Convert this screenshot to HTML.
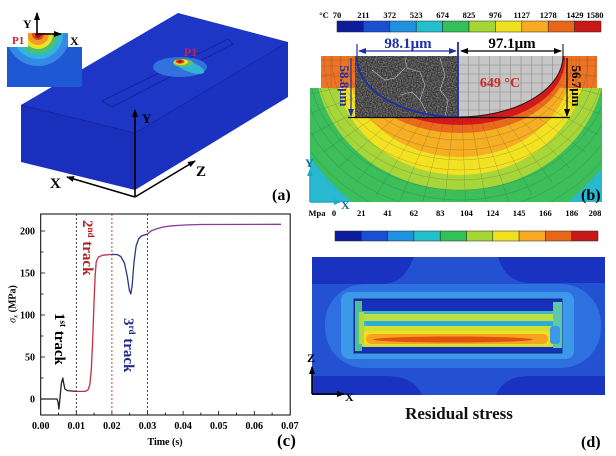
<!DOCTYPE html>
<html><head><meta charset="utf-8"><style>
html,body{margin:0;padding:0;background:#fff;}
svg{display:block;font-family:"Liberation Serif",serif;font-weight:bold;}
</style></head><body>
<svg width="616" height="456" viewBox="0 0 616 456" xmlns="http://www.w3.org/2000/svg">
<defs>
  <marker id="ah" markerWidth="8" markerHeight="8" refX="7" refY="4" orient="auto" markerUnits="userSpaceOnUse"><path d="M0,1 L8,4 L0,7 Z" fill="#000"/></marker>
  <marker id="ahb" markerWidth="8" markerHeight="8" refX="7" refY="4" orient="auto-start-reverse" markerUnits="userSpaceOnUse"><path d="M0,1 L8,4 L0,7 Z" fill="#1e2ea8"/></marker>
  <marker id="ahk" markerWidth="8" markerHeight="8" refX="7" refY="4" orient="auto-start-reverse" markerUnits="userSpaceOnUse"><path d="M0,1 L8,4 L0,7 Z" fill="#000"/></marker>
  <marker id="ahc" markerWidth="7" markerHeight="7" refX="6" refY="3.5" orient="auto" markerUnits="userSpaceOnUse"><path d="M0,0.5 L7,3.5 L0,6.5 Z" fill="#20a8c8"/></marker>
  <clipPath id="clipInset"><path d="M7,47 H28 V33 H68 V47 H82 V84 Q82,87 79,87 H7 Z"/></clipPath>
  <clipPath id="clipB"><path d="M321,56 H597 V88 H602 V202 H310 V88 H321 Z"/></clipPath>
  <clipPath id="clipGray"><path d="M458,56 H563 A105,61 0 0,1 458,117 Z"/></clipPath>
  <filter id="noise" x="0" y="0" width="100%" height="100%">
    <feTurbulence type="fractalNoise" baseFrequency="0.8" numOctaves="2" seed="3"/>
    <feColorMatrix type="matrix" values="0 0 0 0 0.85  0 0 0 0 0.85  0 0 0 0 0.85  1.6 0 0 0 -0.55"/>
  </filter>
</defs>

<!-- ================= (a) ================= -->
<polygon points="21,105 178,13 288,42 135,133" fill="#1d36c6"/>
<polygon points="21,105 135,133 135,190 21,162" fill="#1a2fbb"/>
<polygon points="135,133 288,42 288,97 135,190" fill="#1b31bf"/>
<polyline points="21,105 135,133 288,42" fill="none" stroke="#13239a" stroke-width="0.7"/>
<line x1="135" y1="133" x2="135" y2="190" stroke="#13239a" stroke-width="0.6"/>
<polygon points="102,101 228,39 233,44 112,107" fill="none" stroke="#122090" stroke-width="0.8"/>
<ellipse cx="180" cy="67" rx="27" ry="10" fill="#3272dc"/>
<ellipse cx="190" cy="67" rx="15" ry="5" fill="#34b4d4" transform="rotate(20 190 67)"/>
<ellipse cx="183" cy="63" rx="10" ry="4" fill="#5cc070"/>
<ellipse cx="181" cy="62" rx="7" ry="3" fill="#eee024"/>
<ellipse cx="180" cy="61.5" rx="4.5" ry="2.2" fill="#e04a12"/>
<ellipse cx="180" cy="61.5" rx="2" ry="1.2" fill="#a01010"/>
<text x="184" y="56" font-size="12" fill="#c82050">P1</text>

<g clip-path="url(#clipInset)">
  <rect x="0" y="30" width="90" height="60" fill="#1e58d2"/>
  <circle cx="38" cy="34" r="32" fill="#3688e6"/>
  <circle cx="38" cy="34" r="25" fill="#30b6dc"/>
  <circle cx="38" cy="34" r="20" fill="#4cc070"/>
  <circle cx="38" cy="34" r="15" fill="#ece224"/>
  <circle cx="38" cy="34" r="11" fill="#f29a22"/>
  <circle cx="38" cy="34" r="6" fill="#e04412"/>
  <circle cx="38" cy="35" r="3" fill="#a01010"/>
</g>
<line x1="37" y1="35" x2="37" y2="13" stroke="#000" stroke-width="1.6" marker-end="url(#ah)"/>
<line x1="37" y1="34" x2="61" y2="34" stroke="#000" stroke-width="1.6" marker-end="url(#ah)"/>
<text x="23" y="28" font-size="12" fill="#000">Y</text>
<text x="70" y="45" font-size="12" fill="#000">X</text>
<text x="12" y="44" font-size="11" fill="#c82030">P1</text>

<line x1="135" y1="197" x2="135" y2="110" stroke="#000" stroke-width="1.6" marker-end="url(#ah)"/>
<line x1="135" y1="197" x2="67" y2="177" stroke="#000" stroke-width="1.6" marker-end="url(#ah)"/>
<line x1="135" y1="197" x2="195" y2="161" stroke="#000" stroke-width="1.6" marker-end="url(#ah)"/>
<text x="142" y="123" font-size="13" fill="#000">Y</text>
<text x="50" y="188" font-size="15" fill="#000">X</text>
<text x="196" y="176" font-size="15" fill="#000">Z</text>
<text x="272" y="200" font-size="16" fill="#000">(a)</text>

<!-- ================= (b) ================= -->
<g font-size="8.5" fill="#000" text-anchor="middle">
  <text x="324" y="18">°C</text>
  <text x="337" y="18">70</text>
  <text x="363.4" y="18">211</text>
  <text x="389.8" y="18">372</text>
  <text x="416.2" y="18">523</text>
  <text x="442.6" y="18">674</text>
  <text x="469" y="18">825</text>
  <text x="495.4" y="18">976</text>
  <text x="521.8" y="18">1127</text>
  <text x="548.2" y="18">1278</text>
  <text x="575" y="18">1429</text>
  <text x="595" y="18">1580</text>
</g>
<g stroke="#222" stroke-width="0.5">
  <rect x="337" y="21" width="26.4" height="11" fill="#0c1c9c"/>
  <rect x="363.4" y="21" width="26.4" height="11" fill="#1a50d0"/>
  <rect x="389.8" y="21" width="26.4" height="11" fill="#2090e0"/>
  <rect x="416.2" y="21" width="26.4" height="11" fill="#22c0cc"/>
  <rect x="442.6" y="21" width="26.4" height="11" fill="#34c058"/>
  <rect x="469" y="21" width="26.4" height="11" fill="#a4d634"/>
  <rect x="495.4" y="21" width="26.4" height="11" fill="#f0e020"/>
  <rect x="521.8" y="21" width="26.4" height="11" fill="#f8aa22"/>
  <rect x="548.2" y="21" width="26.4" height="11" fill="#e8661a"/>
  <rect x="574.6" y="21" width="26.4" height="11" fill="#c81818"/>
</g>

<g clip-path="url(#clipB)">
  <rect x="305" y="50" width="300" height="160" fill="#28b8d0"/>
  <circle cx="460" cy="60" r="178" fill="#3cbe5a"/>
  <ellipse cx="460" cy="60" rx="145" ry="130" fill="#a6d63a"/>
  <ellipse cx="460" cy="60" rx="126" ry="115" fill="#f2e222"/>
  <ellipse cx="460" cy="60" rx="113" ry="97" fill="#f6ae22"/>
  <rect x="321" y="56" width="276" height="32" fill="#ee7424"/>
  <ellipse cx="460" cy="60" rx="108" ry="73" fill="#ea6a1c"/>
  <ellipse cx="460" cy="60" rx="105" ry="65" fill="#d21a1a"/>
  <g fill="none" stroke="#3a3a3a" stroke-width="0.5" opacity="0.35">
    <ellipse cx="460" cy="60" rx="112" ry="80"/>
    <ellipse cx="460" cy="60" rx="120" ry="90"/>
    <ellipse cx="460" cy="60" rx="128" ry="100"/>
    <ellipse cx="460" cy="60" rx="136" ry="110"/>
    <ellipse cx="460" cy="60" rx="144" ry="120"/>
    <ellipse cx="460" cy="60" rx="152" ry="130"/>
    <ellipse cx="460" cy="60" rx="160" ry="140"/>
    <ellipse cx="460" cy="60" rx="170" ry="152"/>
    <ellipse cx="460" cy="60" rx="180" ry="164"/>
    <path d="M460,60 L620,60 M460,60 L619,79 M460,60 L615,98 M460,60 L608,117 M460,60 L598,135 M460,60 L585,152 M460,60 L570,168 M460,60 L552,182 M460,60 L532,195 M460,60 L510,205 M460,60 L488,212 M460,60 L466,215 M460,60 L443,215 M460,60 L420,212 M460,60 L398,205 M460,60 L376,195 M460,60 L356,182 M460,60 L338,168 M460,60 L323,152 M460,60 L310,135 M460,60 L300,117 M460,60 L293,98 M460,60 L289,79 M460,60 L288,60"/>
    <path d="M321,66 H350 M321,76 H350 M570,66 H597 M570,76 H597 M331,56 V88 M341,56 V88 M576,56 V88 M587,56 V88"/>
  </g>
</g>
<path d="M458,56 H563 A105,61 0 0,1 458,117 Z" fill="#c6c6c6"/>
<g clip-path="url(#clipGray)" stroke="#8a8a8a" stroke-width="0.6">
  <path d="M468.5,56 V120 M479,56 V120 M489.5,56 V120 M500,56 V120 M510.5,56 V120 M521,56 V120 M531.5,56 V120 M542,56 V120 M552.5,56 V120 M458,65 H565 M458,74 H565 M458,83 H565 M458,92 H565 M458,101 H565 M458,110 H565"/>
</g>
<path d="M563,56 A105,61 0 0,1 458,117" fill="none" stroke="#301010" stroke-width="1"/>
<rect x="355" y="56" width="103" height="61" fill="#333"/>
<rect x="355" y="56" width="103" height="61" filter="url(#noise)" opacity="0.6"/>
<g fill="none" stroke="#dcdcdc" stroke-width="0.6" opacity="0.8">
  <path d="M405,58 L407,68 L420,72 L425,85 L420,100 L428,115"/>
  <path d="M440,58 L445,75 L440,90 L448,100 L445,117"/>
  <path d="M372,70 L385,80 L395,78 L405,68"/>
  <path d="M400,95 L412,92 L420,100"/>
</g>
<path d="M357,58 A101,59 0 0,0 458,117" fill="none" stroke="#1e2ea8" stroke-width="1.8"/>
<line x1="458" y1="42" x2="458" y2="117" stroke="#1e2ea8" stroke-width="1.8"/>
<line x1="357" y1="44" x2="357" y2="60" stroke="#1e2ea8" stroke-width="1.2"/>
<line x1="563" y1="44" x2="563" y2="60" stroke="#000" stroke-width="1"/>
<line x1="348" y1="117.5" x2="570" y2="117.5" stroke="#111" stroke-width="1.3"/>
<line x1="359" y1="51" x2="456" y2="51" stroke="#1e2ea8" stroke-width="1.2" marker-start="url(#ahb)" marker-end="url(#ahb)"/>
<line x1="461" y1="51" x2="561" y2="51" stroke="#000" stroke-width="1.2" marker-start="url(#ahk)" marker-end="url(#ahk)"/>
<line x1="351" y1="58" x2="351" y2="116" stroke="#1e2ea8" stroke-width="1.2" marker-end="url(#ahb)"/>
<line x1="567" y1="58" x2="567" y2="116" stroke="#000" stroke-width="1.2" marker-end="url(#ahk)"/>
<text x="408" y="48" font-size="15" fill="#1e2ea8" text-anchor="middle">98.1μm</text>
<text x="512" y="48" font-size="15" fill="#000" text-anchor="middle">97.1μm</text>
<text x="500" y="87" font-size="14" fill="#d02828" text-anchor="middle">649 °C</text>
<text x="340" y="86" font-size="13" fill="#1e2ea8" text-anchor="middle" transform="rotate(90 340 86)">58.8μm</text>
<text x="572" y="86" font-size="13" fill="#000" text-anchor="middle" transform="rotate(90 572 86)">56.7μm</text>
<line x1="310" y1="202" x2="310" y2="170" stroke="#20a8c8" stroke-width="1.6" marker-end="url(#ahc)"/>
<line x1="310" y1="202" x2="340" y2="202" stroke="#20a8c8" stroke-width="1.6" marker-end="url(#ahc)"/>
<text x="305" y="167" font-size="12" fill="#1a6a90">Y</text>
<text x="341" y="209" font-size="12" fill="#1a6a90">X</text>
<text x="581" y="200" font-size="16" fill="#000">(b)</text>

<!-- ================= (c) ================= -->
<rect x="40.7" y="214" width="249.5" height="201" fill="none" stroke="#000" stroke-width="1"/>
<g stroke="#000" stroke-width="0.8">
  <path d="M76.3,415 V411 M111.9,415 V411 M147.5,415 V411 M183.1,415 V411 M218.7,415 V411 M254.3,415 V411"/>
  <path d="M58.5,415 V412.5 M94.1,415 V412.5 M129.7,415 V412.5 M165.3,415 V412.5 M200.9,415 V412.5 M236.5,415 V412.5 M272.1,415 V412.5"/>
  <path d="M40.7,399 H45 M40.7,357 H45 M40.7,315 H45 M40.7,273 H45 M40.7,231 H45"/>
  <path d="M40.7,378 H43.5 M40.7,336 H43.5 M40.7,294 H43.5 M40.7,252 H43.5"/>
</g>
<g stroke-dasharray="2,2" stroke-width="0.9">
  <line x1="76.3" y1="214" x2="76.3" y2="415" stroke="#222"/>
  <line x1="111.9" y1="214" x2="111.9" y2="415" stroke="#b03030"/>
  <line x1="147.5" y1="214" x2="147.5" y2="415" stroke="#283888"/>
</g>
<g fill="none" stroke-width="1.3" stroke-linejoin="round">
  <path d="M40.7,399 L57.1,399 L58.1,402.4 L58.9,409.1 L59.9,399 L61.3,383.9 L62.8,378 L63.8,383.9 L64.9,388.9 L67.4,390.6 L76.3,391.4" stroke="#222"/>
  <path d="M76.3,391.4 L85.2,391.4 L88,389.8 L89.8,385 L91.3,370 L92.7,340 L94.1,300 L95.2,275 L96.2,262 L98.4,257 L103,255.2 L111.9,254.4" stroke="#c03040"/>
  <path d="M111.9,254.4 L117.2,254.6 L120.8,256.5 L124.4,263 L127.2,276 L129.3,290 L130.8,294 L132.2,285 L134,262 L136.1,246 L138.6,239 L141.4,236 L147.5,234" stroke="#283888"/>
  <path d="M147.5,234 L151,231 L156,229 L163,227 L172,225.8 L185,225 L200,224.5 L281,224.3" stroke="#8a3a9a"/>
</g>
<g font-size="10" fill="#000" text-anchor="middle">
  <text x="40.7" y="429">0.00</text>
  <text x="76.3" y="429">0.01</text>
  <text x="111.9" y="429">0.02</text>
  <text x="147.5" y="429">0.03</text>
  <text x="183.1" y="429">0.04</text>
  <text x="218.7" y="429">0.05</text>
  <text x="254.3" y="429">0.06</text>
  <text x="289.9" y="429">0.07</text>
  <text x="165" y="445">Time (s)</text>
</g>
<g font-size="10" fill="#000" text-anchor="end">
  <text x="35" y="402.5">0</text>
  <text x="35" y="360.5">50</text>
  <text x="35" y="318.5">100</text>
  <text x="35" y="276.5">150</text>
  <text x="35" y="234.5">200</text>
</g>
<text x="15.5" y="304" font-size="10" fill="#000" text-anchor="middle" transform="rotate(-90 15.5 304)"><tspan font-style="italic" font-weight="normal">σ</tspan><tspan font-size="7" dy="2" font-style="italic" font-weight="normal">x</tspan><tspan dy="-2"> (MPa)</tspan></text>
<text x="55" y="313" font-size="15" fill="#000" transform="rotate(90 55 313)">1<tspan font-size="9" dy="-5">st</tspan><tspan dy="5"> track</tspan></text>
<text x="83" y="220" font-size="15" fill="#b02020" transform="rotate(90 83 220)">2<tspan font-size="9" dy="-5">nd</tspan><tspan dy="5"> track</tspan></text>
<text x="124" y="318" font-size="15" fill="#1c2a90" transform="rotate(90 124 318)">3<tspan font-size="9" dy="-5">rd</tspan><tspan dy="5"> track</tspan></text>
<text x="277" y="446" font-size="17" fill="#000">(c)</text>

<!-- ================= (d) ================= -->
<g font-size="8.5" fill="#000" text-anchor="middle">
  <text x="317" y="216">Mpa</text>
  <text x="334" y="216">0</text>
  <text x="361.3" y="216">21</text>
  <text x="387.6" y="216">41</text>
  <text x="413.9" y="216">62</text>
  <text x="440.2" y="216">83</text>
  <text x="466.5" y="216">104</text>
  <text x="492.8" y="216">124</text>
  <text x="519.1" y="216">145</text>
  <text x="545.4" y="216">166</text>
  <text x="571.7" y="216">186</text>
  <text x="595" y="216">208</text>
</g>
<g stroke="#222" stroke-width="0.5">
  <rect x="335" y="231" width="26.3" height="10" fill="#0c1c9c"/>
  <rect x="361.3" y="231" width="26.3" height="10" fill="#1a50d0"/>
  <rect x="387.6" y="231" width="26.3" height="10" fill="#2090e0"/>
  <rect x="413.9" y="231" width="26.3" height="10" fill="#22c0cc"/>
  <rect x="440.2" y="231" width="26.3" height="10" fill="#34c058"/>
  <rect x="466.5" y="231" width="26.3" height="10" fill="#a4d634"/>
  <rect x="492.8" y="231" width="26.3" height="10" fill="#f0e020"/>
  <rect x="519.1" y="231" width="26.3" height="10" fill="#f8aa22"/>
  <rect x="545.4" y="231" width="26.3" height="10" fill="#e8661a"/>
  <rect x="571.7" y="231" width="26.3" height="10" fill="#c81818"/>
</g>
<svg x="312" y="257" width="293" height="138" viewBox="312 257 293 138">
  <rect x="312" y="257" width="293" height="138" fill="#2450d2"/>
  <path d="M312,257 H414 C408,272 400,284 382,284 L312,284 Z" fill="#1a32c0"/>
  <path d="M498,257 H605 V283 H530 C512,283 503,272 498,257 Z" fill="#1a32c0"/>
  <path d="M312,395 H422 C416,382 405,376 385,376 L312,376 Z" fill="#1a32c0"/>
  <path d="M496,395 H605 V376 H530 C510,376 501,384 496,395 Z" fill="#1a32c0"/>
  <rect x="325" y="284" width="276" height="84" rx="40" fill="#2e70e0"/>
  <rect x="341" y="292" width="233" height="67" rx="8" fill="#3c98e8"/>
  <rect x="354" y="299" width="208" height="54" fill="#1630b8" stroke="#0e1c70" stroke-width="0.8"/>
  <rect x="356" y="311" width="205" height="36" fill="#40b8c8"/>
  <rect x="362" y="314" width="196" height="7" rx="3" fill="#b8e040"/>
  <rect x="366" y="321" width="190" height="5" fill="#2eaad8"/>
  <rect x="360" y="326" width="196" height="21" rx="6" fill="#cfe034"/>
  <rect x="362" y="331" width="190" height="14" rx="6" fill="#f2dc26"/>
  <rect x="366" y="334" width="182" height="10" rx="5" fill="#f4a420"/>
  <ellipse cx="453" cy="339.5" rx="80" ry="3" fill="#e05210"/>
  <rect x="355" y="301" width="7" height="50" fill="#4cc090"/>
  <rect x="359" y="312" width="5" height="32" fill="#b8d840"/>
  <rect x="553" y="302" width="9" height="46" fill="#5cc8a8"/>
  <rect x="550" y="326" width="10" height="18" rx="3" fill="#3a9ae6"/>
</svg>
<line x1="312" y1="394" x2="312" y2="367" stroke="#000" stroke-width="1.6" marker-end="url(#ah)"/>
<line x1="312" y1="394" x2="344" y2="394" stroke="#000" stroke-width="1.6" marker-end="url(#ah)"/>
<text x="307" y="362" font-size="12" fill="#000">Z</text>
<text x="345" y="401" font-size="12" fill="#000">X</text>
<text x="459" y="419" font-size="17" fill="#111" text-anchor="middle">Residual stress</text>
<text x="581" y="447" font-size="16" fill="#000">(d)</text>
</svg>
</body></html>
